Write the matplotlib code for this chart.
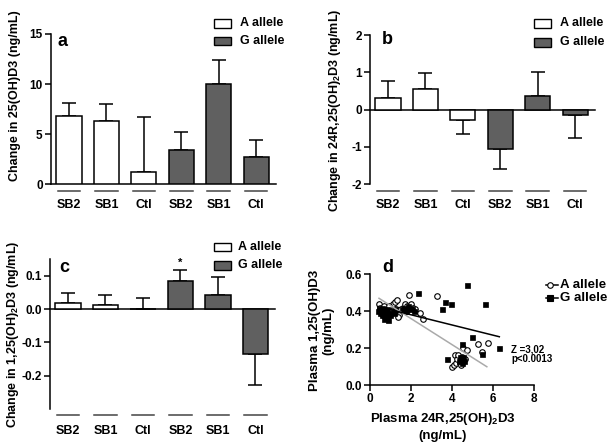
import numpy as np
import matplotlib
matplotlib.use('Agg')
import matplotlib.pyplot as plt
import matplotlib.transforms as mtransforms
from matplotlib.patches import Rectangle
from matplotlib.lines import Line2D

plt.rcParams['font.family'] = ['Liberation Sans', 'DejaVu Sans']
plt.rcParams['font.weight'] = 'bold'
plt.rcParams['axes.labelweight'] = 'bold'
plt.rcParams['mathtext.fontset'] = 'custom'
plt.rcParams['mathtext.rm'] = 'Liberation Sans:bold'
plt.rcParams['mathtext.bf'] = 'Liberation Sans:bold'
plt.rcParams['mathtext.it'] = 'Liberation Sans:bold'

# ---------------- data ----------------
categories = ['SB2', 'SB1', 'Ctl', 'SB2', 'SB1', 'Ctl']
alleles = ['A allele', 'G allele']

a_A_vals = [6.85, 6.3, 1.25]
a_A_err = [1.25, 1.7, 5.5]
a_G_vals = [3.45, 10.05, 2.75]
a_G_err = [1.75, 2.35, 1.7]

b_A_vals = [0.32, 0.54, -0.28]
b_A_err = [0.46, 0.44, 0.37]
b_G_vals = [-1.05, 0.37, -0.13]
b_G_err = [0.53, 0.63, 0.63]

c_A_vals = [0.019, 0.011, 0.0]
c_A_err = [0.028, 0.030, 0.033]
c_G_vals = [0.085, 0.043, -0.136]
c_G_err = [0.033, 0.052, 0.092]

d_A_x = [0.45, 0.5, 0.6, 0.7, 0.8, 0.9, 1.0, 1.1, 1.2, 1.3, 1.25, 1.4, 1.35, 0.55, 0.65,
         0.95, 1.05, 1.6, 1.7, 1.8, 1.9, 1.92, 2.0, 2.1, 2.2, 2.45, 2.6, 1.5, 1.75, 3.26,
         4.0, 4.1, 4.15, 4.2, 4.25, 4.3, 4.4, 4.45, 4.55, 4.65, 4.72, 5.3, 5.75, 5.46, 4.5]
d_A_y = [0.44, 0.42, 0.41, 0.43, 0.40, 0.39, 0.42, 0.44, 0.45, 0.46, 0.41, 0.38, 0.37, 0.40, 0.38,
         0.43, 0.40, 0.42, 0.44, 0.43, 0.41, 0.49, 0.44, 0.42, 0.41, 0.39, 0.36, 0.41, 0.40, 0.48,
         0.10, 0.11, 0.16, 0.12, 0.14, 0.16, 0.12, 0.11, 0.20, 0.14, 0.19, 0.22, 0.23, 0.18, 0.15]
d_G_x = [0.4, 0.45, 0.5, 0.55, 0.6, 0.65, 0.7, 0.75, 0.8, 0.85, 0.9, 0.95, 1.0, 1.1, 1.15,
         1.2, 0.6, 0.7, 1.55, 1.65, 1.75, 1.85, 1.95, 2.05, 2.15, 2.36, 3.5, 3.67, 3.96, 4.73,
         5.62, 5.0, 6.32, 5.46, 4.48, 3.75, 4.35, 4.45, 4.55, 4.6, 4.4, 4.5]
d_G_y = [0.40, 0.41, 0.39, 0.40, 0.38, 0.41, 0.39, 0.40, 0.37, 0.41, 0.35, 0.39, 0.38, 0.40, 0.39,
         0.41, 0.42, 0.36, 0.41, 0.42, 0.40, 0.43, 0.42, 0.41, 0.40, 0.50, 0.41, 0.45, 0.44, 0.54,
         0.44, 0.26, 0.20, 0.17, 0.22, 0.14, 0.13, 0.14, 0.15, 0.13, 0.15, 0.12]
# regression fits: slope, intercept, x-range
fit_A = (-0.0704, 0.501, 0.44, 5.71)
fit_G = (-0.0276, 0.436, 0.40, 6.32)

# ---------------- layout helpers ----------------
W, H = 610, 442
fig = plt.figure(figsize=(W / 100, H / 100), dpi=100)
WHITE = '#ffffff'
GRAY = '#606060'
LW = 1.1


def add_ax(l, t, r, b):
    return fig.add_axes([l / W, 1 - b / H, (r - l) / W, (b - t) / H])


def fx(x):
    return x / W


def fy(y):
    return 1 - y / H


def legend_boxes(x0, x1, ys, text_x, text_ys):
    cols = [WHITE, GRAY]
    for (yt, yb), ty, col, lab in zip(ys, text_ys, cols, alleles):
        fig.add_artist(Rectangle((fx(x0), fy(yb)), (x1 - x0) / W, (yb - yt) / H,
                                 transform=fig.transFigure, facecolor=col,
                                 edgecolor='black', linewidth=1.0))
        fig.text(fx(text_x), fy(ty), lab, fontsize=9, va='center', ha='left')


def bar_panel(box, vA, eA, vG, eG, ylim, yticks, yticklabels, ylabel, ylabel_xy,
              group_y_px, label_y_px, zero_axis):
    l, t, r, b = box
    ax = add_ax(l, t, r, b)
    x = np.arange(6)
    vals = list(vA) + list(vG)
    errs = list(eA) + list(eG)
    colors = [WHITE] * 3 + [GRAY] * 3
    for xi, v, e in zip(x, vals, errs):
        yerr = [[0], [e]] if v >= 0 else [[e], [0]]
        ax.errorbar(xi, v, yerr=yerr, fmt='none', ecolor='black', elinewidth=LW,
                    capsize=5, capthick=LW, zorder=2)
    ax.bar(x, vals, width=0.67, color=colors, edgecolor='black', linewidth=LW, zorder=3)
    ax.set_xlim(-0.48, 5.53)
    ax.set_ylim(*ylim)
    ax.set_yticks(yticks)
    ax.set_yticklabels(yticklabels, fontsize=8.5)
    ax.set_xticks([])
    for s in ['top', 'right']:
        ax.spines[s].set_visible(False)
    ax.spines['left'].set_linewidth(LW)
    ax.spines['bottom'].set_linewidth(LW)
    if zero_axis:
        ax.spines['bottom'].set_position(('data', 0))
    ax.tick_params(axis='y', length=4, width=LW, pad=2)
    ax.set_ylabel(ylabel, fontsize=9)
    ax.yaxis.set_label_coords(*ylabel_xy)
    blend = mtransforms.blended_transform_factory(ax.transData, ax.transAxes)
    gy = (b - group_y_px) / (b - t)
    ly = (b - label_y_px) / (b - t)
    for xi, lab in zip(x, categories):
        ax.plot([xi - 0.3, xi + 0.3], [gy, gy], transform=blend, clip_on=False,
                color='#444444', lw=LW)
        ax.text(xi, ly, lab, transform=blend, ha='center', va='center', fontsize=9)
    return ax


# ---------------- panel a ----------------
ax_a = bar_panel((51, 34, 276, 184.3), a_A_vals, a_A_err, a_G_vals, a_G_err,
                 (0, 15), [0, 5, 10, 15], ['0', '5', '10', '15'],
                 'Change in 25(OH)D3 (ng/mL)', (-0.133, 0.587), 191, 205, False)
fig.text(fx(58), fy(42), 'a', fontsize=13, va='center', ha='left')
legend_boxes(214.3, 231, [(19, 27.7), (36.7, 45.3)], 240, [23.3, 41])

# ---------------- panel b ----------------
ax_b = bar_panel((370, 35, 595, 184.3), b_A_vals, b_A_err, b_G_vals, b_G_err,
                 (-2, 2), [-2, -1, 0, 1, 2], ['-2', '-1', '0', '1', '2'],
                 r'Change in 24R,25(OH)$_{\mathbf{2}}$D3 (ng/mL)', (-0.12, 0.498),
                 191, 205, True)
fig.text(fx(382), fy(40), 'b', fontsize=13, va='center', ha='left')
legend_boxes(534.3, 551, [(19.3, 28.3), (37.7, 46.7)], 560, [23.3, 42.3])

# ---------------- panel c ----------------
ax_c = bar_panel((50, 259, 275.3, 409), c_A_vals, c_A_err, c_G_vals, c_G_err,
                 (-0.3, 0.15), [-0.2, -0.1, 0.0, 0.1], ['-0.2', '-0.1', '0.0', '0.1'],
                 r'Change in 1,25(OH)$_{\mathbf{2}}$D3 (ng/mL)', (-0.129, 0.5),
                 415, 431, True)
ax_c.text(3, 0.138, '*', ha='center', va='center', fontsize=8)
fig.text(fx(59), fy(268), 'c', fontsize=13, va='center', ha='left')
legend_boxes(214.3, 231, [(242.7, 251), (261, 269.7)], 238, [246.7, 265.3])

# ---------------- panel d ----------------
ax_d = add_ax(370, 274.3, 533.7, 385)
ax_d.plot(d_A_x, d_A_y, 'o', mfc='white', mec='black', ms=4, mew=0.8, zorder=3, clip_on=False)
ax_d.plot(d_G_x, d_G_y, 's', mfc='black', mec='black', ms=3.6, mew=0.5, zorder=4, clip_on=False)
for (sl, ic, x0, x1), col in [(fit_A, '#aaaaaa'), (fit_G, 'black')]:
    xs = np.array([x0, x1])
    ax_d.plot(xs, sl * xs + ic, color=col, lw=1.1, zorder=5)
ax_d.set_xlim(0, 8)
ax_d.set_ylim(0, 0.6)
ax_d.set_xticks([0, 2, 4, 6, 8])
ax_d.set_yticks([0, 0.2, 0.4, 0.6])
ax_d.set_yticklabels(['0.0', '0.2', '0.4', '0.6'])
ax_d.tick_params(labelsize=8.5, length=4, width=LW, pad=2)
for s in ['top', 'right']:
    ax_d.spines[s].set_visible(False)
for s in ['left', 'bottom']:
    ax_d.spines[s].set_linewidth(LW)
ax_d.set_ylabel('Plasma 1,25(OH)D3\n(ng/mL)', fontsize=9.5, linespacing=1.1)
ax_d.yaxis.set_label_coords(-0.22, 0.49)
ax_d.set_xlabel(r'Plasma 24R,25(OH)$_{\mathbf{2}}$D3' + '\n(ng/mL)', fontsize=9.5, linespacing=1.3)
ax_d.xaxis.set_label_coords(0.446, -0.235)
fig.text(fx(382), fy(268), 'd', fontsize=13, va='center', ha='left')
fig.text(fx(511), fy(349.3), 'Z =3,02', fontsize=7, va='center', ha='left')
fig.text(fx(511), fy(359.3), 'p<0.0013', fontsize=7, va='center', ha='left')
# legend d
for ty, mk, mfc in [(285, 'o', 'white'), (298.3, 's', 'black')]:
    fig.add_artist(Line2D([fx(545.7), fx(558.3)], [fy(ty), fy(ty)], color='black', lw=1.1,
                          transform=fig.transFigure))
    fig.add_artist(Line2D([fx(549.5)], [fy(ty)], marker=mk, mfc=mfc, mec='black', ms=4,
                          mew=0.8, transform=fig.transFigure, linestyle='none'))
fig.text(fx(560), fy(285), 'A allele', fontsize=9.5, va='center', ha='left')
fig.text(fx(560), fy(298.3), 'G allele', fontsize=9.5, va='center', ha='left')

fig.savefig('out.png', dpi=100)
